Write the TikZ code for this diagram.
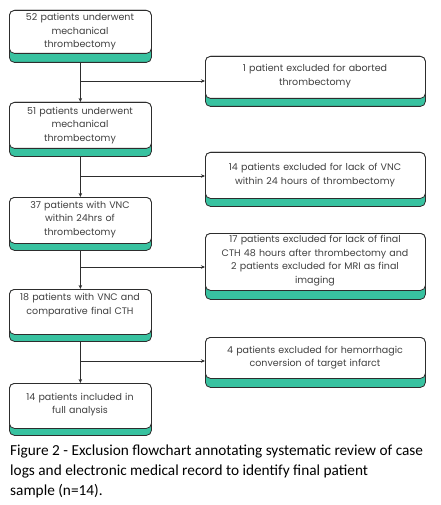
\documentclass[tikz,border=0pt]{standalone}
\usepackage{fontspec}
\setmainfont{Carlito}
\newfontfamily\boxfont{Poppins}
\usetikzlibrary{arrows.meta}
\definecolor{tealc}{RGB}{56,194,160}
\definecolor{edge}{RGB}{45,45,45}
\definecolor{txtc}{RGB}{64,64,64}
\tikzset{
  tealbar/.style={draw=edge, fill=tealc, rounded corners=5pt, line width=0.8pt, inner sep=0pt, anchor=north west},
  wbox/.style={draw=edge, fill=white, rounded corners=5pt, line width=0.8pt, inner sep=0pt, anchor=north west},
  btxt/.style={font=\boxfont\fontsize{9.5}{13.5}\selectfont, text=txtc, align=center, inner sep=0pt},
  ltxt/.style={btxt, text width=140pt},
  rtxt/.style={btxt, text width=218pt},
  arr/.style={draw=edge, line width=0.7pt, -{Stealth[length=4pt,width=3.5pt]}},
  lbox/.style={minimum width=142pt},
  rbox/.style={minimum width=220pt}
}
\begin{document}
\begin{tikzpicture}[x=1pt,y=-1pt]
\useasboundingbox (0,0) rectangle (440,505);
% box 1
\node[tealbar,lbox,minimum height=52pt] (b1t) at (9,10) {};
\node[wbox,lbox,minimum height=43pt] (b1) at (9,10) {};
\node[ltxt] (t1) at (80,32) {52 patients underwent\\mechanical\\thrombectomy};
% excluded 1
\node[tealbar,rbox,minimum height=50pt] (e1t) at (205,56) {};
\node[wbox,rbox,minimum height=42pt] (e1) at (205,56) {};
\node[rtxt] (u1) at (315,76) {1 patient excluded for aborted\\thrombectomy};
% box 2
\node[tealbar,lbox,minimum height=54pt] (b2t) at (9,102) {};
\node[wbox,lbox,minimum height=46pt] (b2) at (9,102) {};
\node[ltxt] (t2) at (80,125.5) {51 patients underwent\\mechanical\\thrombectomy};
% excluded 2
\node[tealbar,rbox,minimum height=54pt] (e2t) at (205,152) {};
\node[wbox,rbox,minimum height=46pt] (e2) at (205,152) {};
\node[rtxt] (u2) at (315,175) {14 patients excluded for lack of VNC\\within 24 hours of thrombectomy};
% box 3
\node[tealbar,lbox,minimum height=53pt] (b3t) at (9,197) {};
\node[wbox,lbox,minimum height=46pt] (b3) at (9,197) {};
\node[ltxt] (t3) at (80,219.5) {37 patients with VNC\\within 24hrs of\\thrombectomy};
% excluded 3
\node[tealbar,rbox,minimum height=66pt] (e3t) at (205,233) {};
\node[wbox,rbox,minimum height=57pt] (e3) at (205,233) {};
\node[rtxt] (u3) at (315,260.5) {17 patients excluded for lack of final\\CTH 48 hours after thrombectomy and\\2 patients excluded for MRI as final\\imaging};
% box 4
\node[tealbar,lbox,minimum height=52pt] (b4t) at (9,289) {};
\node[wbox,lbox,minimum height=45pt] (b4) at (9,289) {};
\node[ltxt] (t4) at (80,305) {18 patients with VNC and\\comparative final CTH};
% excluded 4
\node[tealbar,rbox,minimum height=50pt] (e4t) at (205,337) {};
\node[wbox,rbox,minimum height=41pt] (e4) at (205,337) {};
\node[rtxt] (u4) at (315,357.5) {4 patients excluded for hemorrhagic\\conversion of target infarct};
% box 5
\node[tealbar,lbox,minimum height=52pt] (b5t) at (9,383) {};
\node[wbox,lbox,minimum height=45pt] (b5) at (9,383) {};
\node[ltxt] (t5) at (80,404.5) {14 patients included in\\full analysis};
% connectors
\draw[arr] (b1t.south) -- (b2.north);
\draw[arr] (b2t.south) -- (b3.north);
\draw[arr] (b3t.south) -- (b4.north);
\draw[arr] (b4t.south) -- (b5.north);
\coordinate (j1) at (80,81);
\coordinate (j2) at (80,176);
\coordinate (j3) at (80,267);
\coordinate (j4) at (80,361);
\draw[arr] (j1) -- (j1 -| e1.west);
\draw[arr] (j2) -- (j2 -| e2.west);
\draw[arr] (j3) -- (j3 -| e3.west);
\draw[arr] (j4) -- (j4 -| e4.west);
% caption
\node[anchor=north west, inner sep=0pt, align=left, font=\fontsize{15.3}{19.6}\selectfont, text=black] (cap) at (10,445) {Figure 2 - Exclusion flowchart annotating systematic review of case\\logs and electronic medical record to identify final patient\\sample (n=14).};
\end{tikzpicture}
\end{document}
